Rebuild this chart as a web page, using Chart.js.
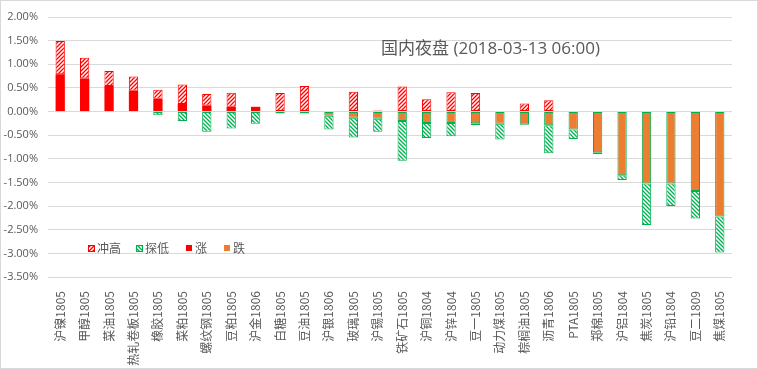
<!DOCTYPE html>
<html>
<head>
<meta charset="utf-8">
<title>国内夜盘</title>
<script src="https://cdn.jsdelivr.net/npm/chart.js@4.4.1/dist/chart.umd.min.js"></script>
<style>
    html, body { margin: 0; padding: 0; background: #fff; }
    #wrap { position: relative; width: 758px; height: 369px; }
    #frame { position: absolute; left: 0; top: 0; width: 756px; height: 367px; border: 1px solid #d9d9d9; pointer-events: none; }
</style>
</head>
<body>
<div id="wrap">
    <canvas id="night"></canvas>
    <div id="frame"></div>
</div>
<script>
// contracts, night session 2018-03-13
var contracts = ["沪镍1805", "甲醇1805", "菜油1805", "热轧卷板1805", "橡胶1805", "菜粕1805", "螺纹钢1805",
    "豆粕1805", "沪金1806", "白糖1805", "豆油1805", "沪银1806", "玻璃1805", "沪锡1805", "铁矿石1805",
    "沪铜1804", "沪锌1804", "豆一1805", "动力煤1805", "棕榈油1805", "沥青1806", "PTA1805", "郑棉1805",
    "沪铝1804", "焦炭1805", "沪铅1804", "豆二1809", "焦煤1805"];

// percent change at close, session high and session low
var closeChg = [0.79, 0.70, 0.54, 0.44, 0.27, 0.16, 0.13, 0.10, 0.10, 0.00, 0.00, -0.09, -0.13, -0.15,
    -0.20, -0.24, -0.24, -0.25, -0.26, -0.28, -0.29, -0.38, -0.86, -1.35, -1.52, -1.52, -1.68, -2.22];
var highChg = [1.49, 1.14, 0.86, 0.74, 0.46, 0.57, 0.37, 0.40, 0.10, 0.39, 0.54, 0.00, 0.42, 0.02,
    0.53, 0.26, 0.41, 0.39, 0.00, 0.17, 0.24, 0.00, 0.00, 0.00, 0.00, 0.00, 0.00, 0.00];
var lowChg = [0.00, 0.00, 0.00, 0.00, -0.08, -0.20, -0.43, -0.36, -0.26, -0.04, -0.04, -0.38, -0.55, -0.43,
    -1.04, -0.56, -0.52, -0.29, -0.59, -0.28, -0.88, -0.58, -0.90, -1.45, -2.40, -2.00, -2.26, -2.98];

var seriesNames = ["冲高", "探低", "涨", "跌"];
var yTicks = [2, 1.5, 1, 0.5, 0, -0.5, -1, -1.5, -2, -2.5, -3, -3.5];

var RED = "#FF0000", GREEN = "#00B050", ORANGE = "#ED7D31", TEXT = "#595959";

// diagonal hatch, dir 1 = "/" , dir -1 = "\"
function makeHatch(color, dir) {
    var c = document.createElement("canvas");
    c.width = 4; c.height = 4;
    var g = c.getContext("2d");
    g.fillStyle = "#fff";
    g.fillRect(0, 0, 4, 4);
    g.strokeStyle = color;
    g.lineWidth = 1.3;
    g.beginPath();
    if (dir > 0) {
        g.moveTo(-1, 5); g.lineTo(5, -1);
        g.moveTo(-1, 1); g.lineTo(1, -1);
        g.moveTo(3, 5); g.lineTo(5, 3);
    } else {
        g.moveTo(-1, -1); g.lineTo(5, 5);
        g.moveTo(-1, 3); g.lineTo(1, 5);
        g.moveTo(3, -1); g.lineTo(5, 1);
    }
    g.stroke();
    return g.createPattern(c, "repeat");
}
var redHatch = makeHatch(RED, 1);
var greenHatch = makeHatch(GREEN, -1);

// floating segments built from close / high / low
var upBody = [], downBody = [], upWick = [], downWick = [];
for (var i = 0; i < contracts.length; i++) {
    var cl = closeChg[i];
    upBody.push(cl > 0 ? [0, cl] : null);
    downBody.push(cl < 0 ? [cl, 0] : null);
    var hiBase = Math.max(cl, 0), loBase = Math.min(cl, 0);
    upWick.push(highChg[i] > hiBase ? [hiBase, highChg[i]] : null);
    downWick.push(lowChg[i] < loBase ? [lowChg[i], loBase] : null);
}

function bar(label, data, fill, border, bw) {
    return {
        label: label, data: data, backgroundColor: fill, borderColor: border, borderWidth: bw,
        borderSkipped: false, grouped: false, categoryPercentage: 1, barPercentage: 0.38
    };
}

// title and legend sit inside the plot area
var insidePlugin = {
    id: "inside",
    afterDraw: function(chart) {
        var ctx = chart.ctx;
        ctx.save();
        ctx.fillStyle = TEXT;
        ctx.textBaseline = "middle";
        ctx.textAlign = "left";
        ctx.font = "17px 'Open Sans', 'Noto Sans CJK SC', sans-serif";
        ctx.fillText("国内夜盘 (2018-03-13 06:00)", 381, 49);

        var items = [
            { x: 88, fill: redHatch, stroke: RED },
            { x: 136, fill: greenHatch, stroke: GREEN },
            { x: 186, fill: RED, stroke: null },
            { x: 224, fill: ORANGE, stroke: null }
        ];
        var y = 248;
        ctx.font = "12px 'Noto Sans CJK SC', sans-serif";
        items.forEach(function(it, k) {
            ctx.fillStyle = it.fill;
            ctx.fillRect(it.x, y - 3, 6, 6);
            if (it.stroke) {
                ctx.strokeStyle = it.stroke;
                ctx.lineWidth = 1;
                ctx.strokeRect(it.x + 0.5, y - 2.5, 6, 6);
            }
            ctx.fillStyle = TEXT;
            ctx.fillText(seriesNames[k], it.x + 9, y);
        });
        ctx.restore();
    }
};

new Chart(document.getElementById("night").getContext("2d"), {
    type: "bar",
    data: {
        labels: contracts,
        datasets: [
            bar("涨", upBody, RED, RED, 0),
            bar("跌", downBody, ORANGE, GREEN, 1),
            bar("冲高", upWick, redHatch, RED, 1),
            bar("探低", downWick, greenHatch, GREEN, 1)
        ]
    },
    options: {
        responsive: true,
        maintainAspectRatio: false,
        animation: false,
        layout: { padding: { top: 17, right: 26, left: 0, bottom: 0 } },
        plugins: {
            legend: { display: false },
            title: { display: false },
            tooltip: { enabled: false }
        },
        scales: {
            x: {
                grid: { display: false },
                border: { display: false },
                ticks: {
                    color: TEXT, autoSkip: false, minRotation: 90, maxRotation: 90, padding: 6,
                    font: { size: 12, family: "'Noto Sans CJK SC', sans-serif" }
                },
                afterFit: function(s) { s.height = 92; }
            },
            y: {
                min: -3.5,
                max: 2,
                afterBuildTicks: function(s) {
                    s.ticks = yTicks.map(function(v) { return { value: v }; });
                },
                grid: { color: "#d9d9d9", lineWidth: 1, drawTicks: false },
                border: { display: false },
                ticks: {
                    color: TEXT, padding: 10,
                    font: { size: 11, family: "'Open Sans', sans-serif" },
                    callback: function(v) { return v.toFixed(2) + "%"; }
                },
                afterFit: function(s) { s.width = 48; }
            }
        }
    },
    plugins: [insidePlugin]
});
</script>
</body>
</html>
